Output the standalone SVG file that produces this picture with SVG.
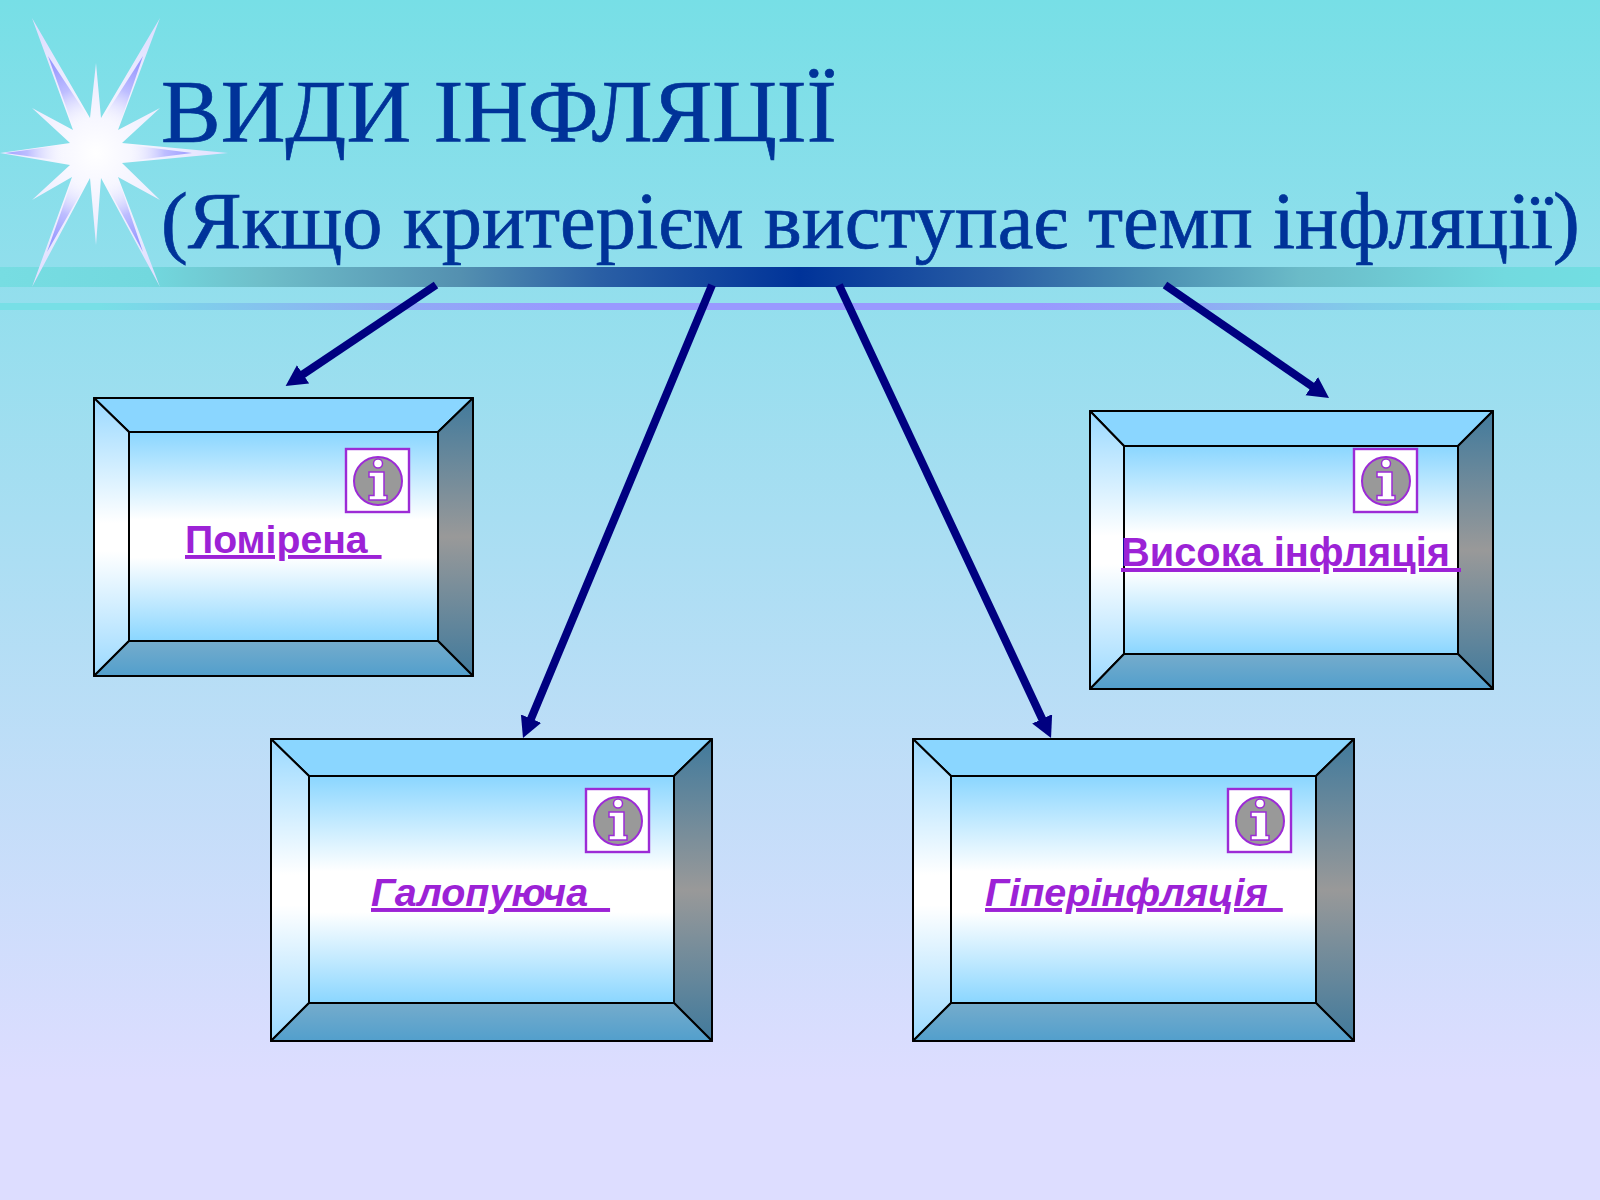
<svg xmlns="http://www.w3.org/2000/svg" width="1600" height="1200" viewBox="0 0 1600 1200">
<style>
.o{stroke:#000;stroke-width:2;stroke-linejoin:round}
.t{fill:url(#bt)}.l{fill:url(#bl)}.r{fill:url(#br)}.b{fill:url(#bb)}.c{fill:url(#bc)}
.lb{font-family:"Liberation Sans",Arial,sans-serif;font-weight:700;font-size:39.8px;fill:#9C22D6;text-decoration:underline;white-space:pre}
.it{font-style:italic;font-size:39.5px}
.h{font-family:"Liberation Serif","Times New Roman",serif;fill:#003399;stroke:#003399;stroke-width:0.7}
.ib{fill:#fff;stroke:#9C2BD6;stroke-width:2.4}
.ic{fill:#999;stroke:#9C2BD6;stroke-width:2}
.ig{fill:#fff;stroke:#9C2BD6;stroke-width:1.5}
.ar{stroke:#000080;stroke-width:8;fill:none}
.ah{fill:#000080}
</style>
<defs>
<linearGradient id="bg" x1="0" y1="0" x2="0" y2="1"><stop offset="0" stop-color="#77DFE6"/><stop offset="0.9" stop-color="#DDDDFF"/><stop offset="1" stop-color="#DDDDFF"/></linearGradient>
<linearGradient id="bar" x1="0" y1="0" x2="1" y2="0"><stop offset="0" stop-color="#77DDE2"/><stop offset="0.094" stop-color="#72D8DE"/><stop offset="0.1625" stop-color="#6FBFCA"/><stop offset="0.2875" stop-color="#5490B0"/><stop offset="0.375" stop-color="#2A5FA5"/><stop offset="0.5" stop-color="#003399"/><stop offset="0.625" stop-color="#2A5FA5"/><stop offset="0.72" stop-color="#4A8FB2"/><stop offset="0.8125" stop-color="#6BBBC8"/><stop offset="0.94" stop-color="#72DADF"/><stop offset="1" stop-color="#72DEE2"/></linearGradient>
<linearGradient id="thin" x1="0" y1="0" x2="1" y2="0"><stop offset="0" stop-color="#77DFE6"/><stop offset="0.0625" stop-color="#77DFE6"/><stop offset="0.25" stop-color="#90AAF5"/><stop offset="0.35" stop-color="#9999FF"/><stop offset="0.65" stop-color="#9999FF"/><stop offset="0.75" stop-color="#90AAF5"/><stop offset="0.85" stop-color="#80CCE8"/><stop offset="0.95" stop-color="#77DFE6"/><stop offset="1" stop-color="#77DFE6"/></linearGradient>
<linearGradient id="bt" x1="0" y1="0" x2="0" y2="1"><stop offset="0" stop-color="#8AD6FF"/><stop offset="1" stop-color="#8AD6FF"/></linearGradient>
<linearGradient id="bl" x1="0" y1="0" x2="0" y2="1"><stop offset="0" stop-color="#9AD9FF"/><stop offset="0.45" stop-color="#fff"/><stop offset="0.55" stop-color="#fff"/><stop offset="1" stop-color="#9AD9FF"/></linearGradient>
<linearGradient id="br" x1="0" y1="0" x2="0" y2="1"><stop offset="0" stop-color="#417A9C"/><stop offset="0.5" stop-color="#999"/><stop offset="1" stop-color="#417A9C"/></linearGradient>
<linearGradient id="bb" x1="0" y1="0" x2="0" y2="1"><stop offset="0" stop-color="#75ACCC"/><stop offset="1" stop-color="#529FCC"/></linearGradient>
<linearGradient id="bc" x1="0" y1="0" x2="0" y2="1"><stop offset="0" stop-color="#8AD6FF"/><stop offset="0.42" stop-color="#fff"/><stop offset="0.6" stop-color="#fff"/><stop offset="1" stop-color="#8AD6FF"/></linearGradient>
<radialGradient id="so" gradientUnits="userSpaceOnUse" cx="96" cy="153" r="130"><stop offset="0" stop-color="#fff"/><stop offset="1" stop-color="#E0E0FF"/></radialGradient>
<radialGradient id="si" gradientUnits="userSpaceOnUse" cx="96" cy="153" r="98"><stop offset="0.3" stop-color="#fff" stop-opacity="0"/><stop offset="0.7" stop-color="#BDBDFF"/><stop offset="1" stop-color="#9999FF"/></radialGradient>
<marker id="arrow" markerUnits="userSpaceOnUse" markerWidth="28" markerHeight="24" refX="2" refY="11" orient="auto"><path class="ah" d="M0 0L21 11L0 22Z"/></marker>
<g id="info">
<rect class="ib" x="0" y="0" width="63" height="63"/>
<circle class="ic" cx="32" cy="32" r="24"/>
<circle class="ig" cx="32" cy="14.5" r="4.5"/>
<path class="ig" d="M23 23H38V46.5H41V51H23V46.5H28V28H23Z"/>
</g>
</defs>
<rect id="background" width="1600" height="1200" fill="url(#bg)"/>
<g id="decor">
<rect x="0" y="267" width="1600" height="20" fill="url(#bar)"/>
<rect x="0" y="303" width="1600" height="7" fill="url(#thin)"/>
<polygon fill="url(#so)" points="96,63 101,118 160,18 118,130 160,108 122,143 228,153 122,163 160,200 118,177 160,287 101,178 96,245 90,178 32,287 72,177 32,200 70,165 0,153 70,143 32,108 73,130 32,18 90,118"/>
<polygon fill="url(#si)" points="96,153 102,120 143,56 117,132 96,153 122,144 192,153 122,162 96,153 117,175 143,252 102,177 96,153 90,177 47,252 74,175 96,153 70,162 5,153 70,144 96,153 75,132 48,56 90,120"/>
</g>
<g id="title">
<text class="h" x="161" y="141" font-size="89.5">ВИДИ ІНФЛЯЦІЇ</text>
<text class="h" x="161" y="248" font-size="80.4">(Якщо критерієм виступає темп інфляції)</text>
</g>
<g id="connectors">
<line class="ar" x1="436" y1="285" x2="301.4" y2="375.4" marker-end="url(#arrow)"/>
<line class="ar" x1="712" y1="285" x2="530.3" y2="720.5" marker-end="url(#arrow)"/>
<line class="ar" x1="839" y1="285" x2="1043" y2="720.7" marker-end="url(#arrow)"/>
<line class="ar" x1="1165" y1="285" x2="1313.4" y2="387.2" marker-end="url(#arrow)"/>
</g>
<g id="node-pomirena">
<path class="o t" d="M94 398H473L438 432H129Z"/><path class="o l" d="M94 398L129 432V641L94 676Z"/><path class="o r" d="M473 398V676L438 641V432Z"/><path class="o b" d="M94 676L129 641H438L473 676Z"/><rect class="o c" x="129" y="432" width="309" height="209"/>
<use href="#info" x="346" y="449"/>
<text class="lb" x="185" y="553" style="font-size:39.2px;word-spacing:3px">Помірена </text>
</g>
<g id="node-halopuiucha">
<path class="o t" d="M271 739H712L674 776H309Z"/><path class="o l" d="M271 739L309 776V1003L271 1041Z"/><path class="o r" d="M712 739V1041L674 1003V776Z"/><path class="o b" d="M271 1041L309 1003H674L712 1041Z"/><rect class="o c" x="309" y="776" width="365" height="227"/>
<use href="#info" x="586" y="789"/>
<text class="lb it" x="371" y="906">Галопуюча  </text>
</g>
<g id="node-hiperinflation">
<path class="o t" d="M913 739H1354L1316 776H951Z"/><path class="o l" d="M913 739L951 776V1003L913 1041Z"/><path class="o r" d="M1354 739V1041L1316 1003V776Z"/><path class="o b" d="M913 1041L951 1003H1316L1354 1041Z"/><rect class="o c" x="951" y="776" width="365" height="227"/>
<use href="#info" x="1228" y="789"/>
<text class="lb it" x="985" y="906" style="word-spacing:4px">Гіперінфляція </text>
</g>
<g id="node-high">
<path class="o t" d="M1090 411H1493L1458 446H1124Z"/><path class="o l" d="M1090 411L1124 446V654L1090 689Z"/><path class="o r" d="M1493 411V689L1458 654V446Z"/><path class="o b" d="M1090 689L1124 654H1458L1493 689Z"/><rect class="o c" x="1124" y="446" width="334" height="208"/>
<use href="#info" x="1354" y="449"/>
<text class="lb" x="1121" y="566">Висока інфляція </text>
</g>
</svg>
